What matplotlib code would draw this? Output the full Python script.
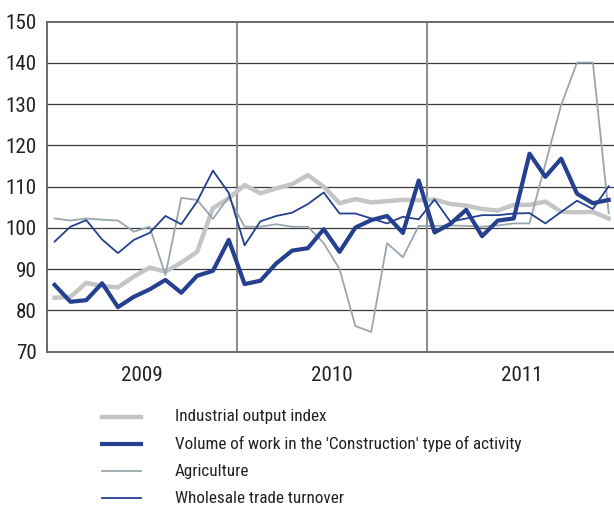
import numpy as np
import matplotlib
matplotlib.use('Agg')
import matplotlib.pyplot as plt
from matplotlib import font_manager
from matplotlib.lines import Line2D

names = {f.name for f in font_manager.fontManager.ttflist}
fam = 'DejaVu Sans'
for cand in ['Liberation Sans Narrow', 'Roboto Condensed', 'Noto Sans Condensed',
             'DejaVu Sans Condensed', 'Open Sans Condensed']:
    if cand in names:
        fam = cand
        break
plt.rcParams['font.family'] = [fam, 'DejaVu Sans']
if fam == 'DejaVu Sans':
    plt.rcParams['font.stretch'] = 'condensed'

years = ['2009', '2010', '2011']
labels = ['Industrial output index',
          "Volume of work in the 'Construction' type of activity",
          'Agriculture',
          'Wholesale trade turnover']

industrial = [83.1, 83.3, 86.7, 85.9, 85.6, 88.2, 90.4, 89.4, 91.6, 94.2, 104.8, 107.2,
              110.4, 108.4, 109.6, 110.6, 112.8, 110.0, 106.0, 107.0, 106.2, 106.5, 106.8, 106.7,
              106.9, 105.8, 105.4, 104.6, 104.2, 105.6, 105.6, 106.4, 103.9, 103.8, 103.9, 102.3]
construction = [86.2, 82.1, 82.5, 86.6, 80.8, 83.3, 85.1, 87.4, 84.3, 88.4, 89.6, 97.1,
                86.4, 87.2, 91.4, 94.5, 95.1, 99.7, 94.2, 100.1, 101.9, 102.9, 98.8, 111.5,
                98.9, 101.0, 104.4, 98.0, 101.8, 102.3, 118.0, 112.4, 116.8, 108.3, 106.0, 106.8]
agriculture = [102.3, 101.8, 102.3, 102.0, 101.8, 99.1, 100.3, 88.6, 107.3, 106.8, 102.2, 107.5,
               100.3, 100.3, 100.9, 100.3, 100.3, 96.3, 90.0, 76.2, 74.8, 96.3, 92.9, 100.5,
               100.5, 100.6, 100.5, 100.3, 100.6, 101.1, 101.1, 115.5, 129.8, 140.1, 140.1, 103.6]
wholesale = [96.7, 100.3, 101.9, 97.2, 93.9, 97.1, 98.8, 102.9, 100.9, 106.4, 113.9, 108.5,
             95.8, 101.6, 102.9, 103.7, 105.8, 108.6, 103.5, 103.5, 102.3, 101.1, 102.7, 102.1,
             106.9, 101.5, 102.3, 103.1, 103.1, 103.5, 103.6, 101.1, 103.9, 106.6, 104.6, 110.1]

x = np.arange(len(industrial)) + 0.5

fig = plt.figure(figsize=(6.14, 5.08), dpi=100)
W, H = 614, 508

# fit font sizes roughly to the widths in the reference
rend = fig.canvas.get_renderer()
def size_for(s, target_px):
    t = fig.text(0, 0, s, fontsize=10)
    w = t.get_window_extent(rend).width
    t.remove()
    return 10 * target_px / w
tick_fs = min(size_for('150', 31), 16)
leg_fs = min(size_for(labels[1], 345), 16)

ax = fig.add_axes([46.7 / W, 1 - 351.7 / H, 569.9 / W, 330 / H])

for v in range(80, 150, 10):
    ax.axhline(v, color='#3a3a3a', lw=0.9, zorder=0)
for v in [12, 24]:
    ax.axvline(v, color='#8a8a8a', lw=1.4, zorder=0)

styles = [('#c4c5c7', 3.2), ('#24408e', 3.0), ('#9aa6ae', 1.3), ('#24408e', 1.3)]
series = [industrial, construction, agriculture, wholesale]
zorders = [2, 5, 3, 4]
for s, (c, lw), z in zip(series, styles, zorders):
    ax.plot(x, s, color=c, lw=lw, zorder=z)

ax.set_xlim(0, 36)
ax.set_ylim(70, 150)
ax.set_yticks(range(70, 151, 10))
ax.tick_params(axis='y', length=0, pad=7, labelsize=tick_fs, colors='#222222')
ax.set_xticks([6, 18, 30])
ax.set_xticklabels(years)
ax.tick_params(axis='x', length=0, pad=10, labelsize=tick_fs, colors='#222222')

for s in ['top', 'left', 'bottom']:
    ax.spines[s].set_color('#6a6a6a')
    ax.spines[s].set_linewidth(1.4)
ax.spines['right'].set_visible(False)

# legend below the chart
for i, (lab, (c, lw)) in enumerate(zip(labels, styles)):
    yy = 1 - (416.7 + i * 27.2) / H
    fig.add_artist(Line2D([102 / W, 141 / W], [yy, yy], color=c, lw=lw))
    fig.text(175 / W, yy, lab, fontsize=leg_fs, va='center', ha='left', color='#222222')

fig.savefig('out.png', dpi=100)
